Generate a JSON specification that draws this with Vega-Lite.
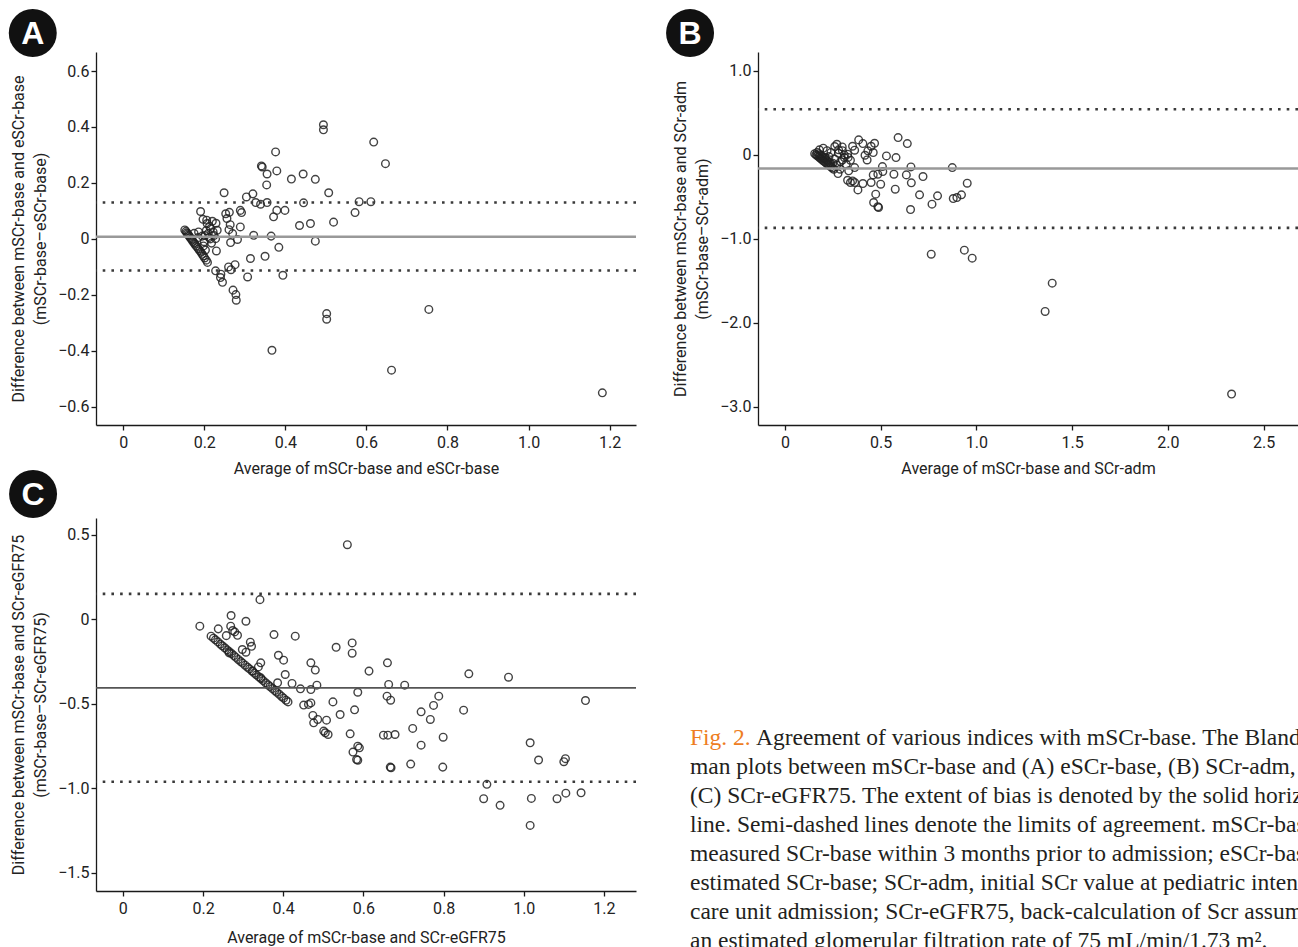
{
"$schema":"https://vega.github.io/schema/vega-lite/v6.json",
"background":"white",
"padding":{"left":8,"top":8,"right":0,"bottom":0},
"config":{
 "view":{"stroke":null},
 "axis":{"grid":false,"domainColor":"#1a1a1a","domainWidth":1.3,"tickColor":"#1a1a1a","tickWidth":1.3,"tickSize":5,"labelFont":"Roboto","labelFontSize":16,"labelColor":"#222","titleFont":"Roboto","titleFontSize":16,"titleFontWeight":"normal","titleColor":"#222","labelPadding":2,"labelFlush":false,"labelOverlap":false},
 "axisY":{"titleLineHeight":22,"titlePadding":9},
 "axisX":{"titlePadding":10,"labelPadding":4}
},
"datasets":{
 "A":[
  {"x":0.494,"y":0.408},{"x":0.494,"y":0.390},{"x":0.618,"y":0.346},{"x":0.647,"y":0.269},{"x":0.376,"y":0.311},{"x":0.341,"y":0.261},{"x":0.343,"y":0.257},{"x":0.379,"y":0.243},{"x":0.355,"y":0.232},{"x":0.415,"y":0.214},{"x":0.444,"y":0.232},{"x":0.474,"y":0.213},{"x":0.354,"y":0.193},{"x":0.249,"y":0.165},{"x":0.507,"y":0.165},{"x":0.320,"y":0.161},{"x":0.304,"y":0.150},{"x":0.327,"y":0.130},{"x":0.339,"y":0.124},{"x":0.355,"y":0.130},{"x":0.445,"y":0.129},{"x":0.582,"y":0.133},{"x":0.611,"y":0.133},{"x":0.572,"y":0.094},{"x":0.379,"y":0.102},{"x":0.399,"y":0.102},{"x":0.371,"y":0.079},{"x":0.289,"y":0.102},{"x":0.292,"y":0.094},{"x":0.262,"y":0.095},{"x":0.253,"y":0.090},{"x":0.256,"y":0.073},{"x":0.191,"y":0.098},{"x":0.197,"y":0.070},{"x":0.206,"y":0.067},{"x":0.220,"y":0.063},{"x":0.229,"y":0.056},{"x":0.519,"y":0.060},{"x":0.462,"y":0.055},{"x":0.435,"y":0.048},{"x":0.289,"y":0.043},{"x":0.264,"y":0.051},{"x":0.261,"y":0.033},{"x":0.270,"y":0.019},{"x":0.232,"y":0.031},{"x":0.216,"y":0.037},{"x":0.186,"y":0.025},{"x":0.202,"y":0.012},{"x":0.212,"y":0.005},{"x":0.224,"y":0.012},{"x":0.228,"y":0.001},{"x":0.322,"y":0.013},{"x":0.365,"y":0.010},{"x":0.282,"y":-0.002},{"x":0.265,"y":-0.013},{"x":0.474,"y":-0.008},{"x":0.384,"y":-0.030},{"x":0.230,"y":-0.043},{"x":0.350,"y":-0.062},{"x":0.314,"y":-0.070},{"x":0.276,"y":-0.092},{"x":0.260,"y":-0.100},{"x":0.266,"y":-0.110},{"x":0.228,"y":-0.114},{"x":0.241,"y":-0.126},{"x":0.307,"y":-0.136},{"x":0.394,"y":-0.130},{"x":0.240,"y":-0.138},{"x":0.245,"y":-0.155},{"x":0.271,"y":-0.183},{"x":0.278,"y":-0.199},{"x":0.279,"y":-0.219},{"x":0.502,"y":-0.267},{"x":0.502,"y":-0.287},{"x":0.754,"y":-0.252},{"x":0.367,"y":-0.398},{"x":0.662,"y":-0.469},{"x":1.182,"y":-0.550},
  {"x":0.152,"y":0.032},{"x":0.155,"y":0.027},{"x":0.157,"y":0.022},{"x":0.159,"y":0.018},{"x":0.161,"y":0.014},{"x":0.163,"y":0.010},{"x":0.165,"y":0.005},{"x":0.168,"y":0.000},{"x":0.170,"y":-0.004},{"x":0.172,"y":-0.009},{"x":0.175,"y":-0.014},{"x":0.177,"y":-0.019},{"x":0.180,"y":-0.025},{"x":0.183,"y":-0.030},{"x":0.186,"y":-0.036},{"x":0.189,"y":-0.042},{"x":0.192,"y":-0.048},{"x":0.195,"y":-0.055},{"x":0.198,"y":-0.061},{"x":0.201,"y":-0.068},{"x":0.205,"y":-0.076},{"x":0.208,"y":-0.084},
  {"x":0.175,"y":0.020},{"x":0.185,"y":0.005},{"x":0.195,"y":0.010},{"x":0.200,"y":-0.010},{"x":0.205,"y":0.030},{"x":0.210,"y":0.020},{"x":0.215,"y":0.000},{"x":0.203,"y":-0.040},{"x":0.198,"y":-0.025},{"x":0.213,"y":0.045},{"x":0.222,"y":0.025},{"x":0.218,"y":-0.015},{"x":0.207,"y":0.055}
 ],
 "B":[
  {"x":0.591,"y":0.206},{"x":0.639,"y":0.135},{"x":0.385,"y":0.179},{"x":0.407,"y":0.135},{"x":0.468,"y":0.139},{"x":0.450,"y":0.103},{"x":0.433,"y":0.048},{"x":0.461,"y":0.028},{"x":0.418,"y":-0.004},{"x":0.429,"y":-0.060},{"x":0.530,"y":-0.012},{"x":0.580,"y":-0.032},{"x":0.271,"y":0.127},{"x":0.299,"y":0.095},{"x":0.353,"y":0.103},{"x":0.364,"y":0.056},{"x":0.327,"y":0.008},{"x":0.310,"y":-0.032},{"x":0.342,"y":-0.063},{"x":0.364,"y":-0.151},{"x":0.333,"y":-0.190},{"x":0.288,"y":-0.171},{"x":0.277,"y":-0.222},{"x":0.327,"y":-0.302},{"x":0.353,"y":-0.310},{"x":0.342,"y":-0.329},{"x":0.364,"y":-0.329},{"x":0.381,"y":-0.417},{"x":0.407,"y":-0.341},{"x":0.450,"y":-0.329},{"x":0.461,"y":-0.238},{"x":0.485,"y":-0.230},{"x":0.509,"y":-0.139},{"x":0.511,"y":-0.198},{"x":0.500,"y":-0.349},{"x":0.474,"y":-0.468},{"x":0.463,"y":-0.567},{"x":0.489,"y":-0.627},{"x":0.485,"y":-0.617},{"x":0.569,"y":-0.230},{"x":0.576,"y":-0.409},{"x":0.634,"y":-0.238},{"x":0.658,"y":-0.143},{"x":0.660,"y":-0.333},{"x":0.721,"y":-0.258},{"x":0.703,"y":-0.476},{"x":0.656,"y":-0.651},{"x":0.768,"y":-0.587},{"x":0.797,"y":-0.488},{"x":0.874,"y":-0.151},{"x":0.879,"y":-0.520},{"x":0.898,"y":-0.508},{"x":0.922,"y":-0.476},{"x":0.952,"y":-0.337},{"x":0.764,"y":-1.183},{"x":0.937,"y":-1.135},{"x":0.978,"y":-1.230},{"x":1.396,"y":-1.528},{"x":1.359,"y":-1.865},{"x":2.333,"y":-2.849},
  {"x":0.155,"y":0.015},{"x":0.162,"y":0.002},{"x":0.169,"y":-0.011},{"x":0.176,"y":-0.024},{"x":0.183,"y":-0.037},{"x":0.190,"y":-0.050},{"x":0.197,"y":-0.063},{"x":0.204,"y":-0.076},{"x":0.211,"y":-0.089},{"x":0.218,"y":-0.102},{"x":0.225,"y":-0.115},{"x":0.232,"y":-0.128},{"x":0.240,"y":-0.143},{"x":0.247,"y":-0.156},{"x":0.255,"y":-0.171},
  {"x":0.168,"y":0.030},{"x":0.176,"y":0.014},{"x":0.184,"y":-0.001},{"x":0.192,"y":-0.016},{"x":0.200,"y":-0.031},{"x":0.208,"y":-0.046},{"x":0.216,"y":-0.061},{"x":0.224,"y":-0.076},{"x":0.232,"y":-0.091},{"x":0.240,"y":-0.106},
  {"x":0.180,"y":0.060},{"x":0.200,"y":0.080},{"x":0.220,"y":0.050},{"x":0.210,"y":-0.030},{"x":0.230,"y":-0.020},{"x":0.240,"y":0.030},{"x":0.260,"y":-0.050},{"x":0.250,"y":-0.100},{"x":0.270,"y":-0.120},{"x":0.280,"y":0.020},{"x":0.290,"y":-0.080},{"x":0.300,"y":-0.060},{"x":0.310,"y":0.000},{"x":0.320,"y":-0.110},{"x":0.260,"y":0.100},{"x":0.280,"y":0.060},{"x":0.300,"y":0.050},{"x":0.330,"y":-0.030}
 ],
 "C":[
  {"x":0.560,"y":0.441},{"x":0.342,"y":0.116},{"x":0.270,"y":0.022},{"x":0.307,"y":-0.012},{"x":0.192,"y":-0.041},{"x":0.238,"y":-0.057},{"x":0.269,"y":-0.041},{"x":0.274,"y":-0.067},{"x":0.279,"y":-0.075},{"x":0.286,"y":-0.095},{"x":0.258,"y":-0.097},{"x":0.377,"y":-0.091},{"x":0.430,"y":-0.100},{"x":0.318,"y":-0.136},{"x":0.321,"y":-0.160},{"x":0.298,"y":-0.179},{"x":0.307,"y":-0.195},{"x":0.265,"y":-0.199},{"x":0.532,"y":-0.166},{"x":0.572,"y":-0.140},{"x":0.572,"y":-0.201},{"x":0.388,"y":-0.213},{"x":0.401,"y":-0.242},{"x":0.469,"y":-0.258},{"x":0.480,"y":-0.301},{"x":0.660,"y":-0.258},{"x":0.614,"y":-0.307},{"x":0.344,"y":-0.258},{"x":0.338,"y":-0.282},{"x":0.324,"y":-0.307},{"x":0.405,"y":-0.327},{"x":0.344,"y":-0.347},{"x":0.863,"y":-0.323},{"x":0.962,"y":-0.343},{"x":0.663,"y":-0.386},{"x":0.703,"y":-0.390},{"x":0.484,"y":-0.390},{"x":0.422,"y":-0.380},{"x":0.386,"y":-0.376},{"x":0.443,"y":-0.412},{"x":0.469,"y":-0.416},{"x":0.586,"y":-0.432},{"x":0.659,"y":-0.455},{"x":0.668,"y":-0.479},{"x":0.788,"y":-0.455},{"x":0.524,"y":-0.489},{"x":1.154,"y":-0.481},{"x":0.469,"y":-0.495},{"x":0.451,"y":-0.508},{"x":0.463,"y":-0.504},{"x":0.775,"y":-0.510},{"x":0.578,"y":-0.536},{"x":0.850,"y":-0.538},{"x":0.744,"y":-0.548},{"x":0.542,"y":-0.564},{"x":0.474,"y":-0.569},{"x":0.476,"y":-0.613},{"x":0.486,"y":-0.593},{"x":0.508,"y":-0.597},{"x":0.767,"y":-0.593},{"x":0.501,"y":-0.662},{"x":0.505,"y":-0.672},{"x":0.512,"y":-0.682},{"x":0.567,"y":-0.678},{"x":0.650,"y":-0.686},{"x":0.661,"y":-0.686},{"x":0.679,"y":-0.682},{"x":0.723,"y":-0.646},{"x":0.799,"y":-0.698},{"x":0.744,"y":-0.745},{"x":0.586,"y":-0.751},{"x":0.590,"y":-0.761},{"x":0.574,"y":-0.786},{"x":0.583,"y":-0.830},{"x":0.586,"y":-0.834},{"x":0.667,"y":-0.875},{"x":0.669,"y":-0.879},{"x":0.718,"y":-0.857},{"x":0.798,"y":-0.875},{"x":1.016,"y":-0.731},{"x":1.037,"y":-0.833},{"x":1.104,"y":-0.825},{"x":1.100,"y":-0.843},{"x":0.908,"y":-0.977},{"x":0.900,"y":-1.062},{"x":0.941,"y":-1.101},{"x":1.019,"y":-1.060},{"x":1.016,"y":-1.220},{"x":1.083,"y":-1.062},{"x":1.105,"y":-1.029},{"x":1.143,"y":-1.027},
  {"x":0.220,"y":-0.100},{"x":0.226,"y":-0.112},{"x":0.231,"y":-0.122},{"x":0.237,"y":-0.134},{"x":0.243,"y":-0.147},{"x":0.248,"y":-0.157},{"x":0.254,"y":-0.169},{"x":0.260,"y":-0.181},{"x":0.265,"y":-0.191},{"x":0.271,"y":-0.203},{"x":0.277,"y":-0.215},{"x":0.282,"y":-0.226},{"x":0.288,"y":-0.238},{"x":0.294,"y":-0.250},{"x":0.299,"y":-0.260},{"x":0.305,"y":-0.272},{"x":0.311,"y":-0.284},{"x":0.316,"y":-0.294},{"x":0.322,"y":-0.307},{"x":0.328,"y":-0.319},{"x":0.333,"y":-0.329},{"x":0.339,"y":-0.341},{"x":0.345,"y":-0.353},{"x":0.350,"y":-0.363},{"x":0.356,"y":-0.376},{"x":0.362,"y":-0.388},{"x":0.367,"y":-0.398},{"x":0.373,"y":-0.410},{"x":0.379,"y":-0.422},{"x":0.384,"y":-0.432},{"x":0.390,"y":-0.444},{"x":0.396,"y":-0.457},{"x":0.401,"y":-0.467},{"x":0.407,"y":-0.479},{"x":0.412,"y":-0.489}
 ],
 "caption":[
  {"line":1,"part":"fig","text":"Fig. 2."},
  {"line":1,"part":"first","text":"Agreement of various indices with mSCr-base. The Bland-Alt-"},
  {"line":2,"part":"body","text":"man plots between mSCr-base and (A) eSCr-base, (B) SCr-adm, and"},
  {"line":3,"part":"body","text":"(C) SCr-eGFR75. The extent of bias is denoted by the solid horizontal"},
  {"line":4,"part":"body","text":"line. Semi-dashed lines denote the limits of agreement. mSCr-base,"},
  {"line":5,"part":"body","text":"measured SCr-base within 3 months prior to admission; eSCr-base,"},
  {"line":6,"part":"body","text":"estimated SCr-base; SCr-adm, initial SCr value at pediatric intensive"},
  {"line":7,"part":"body","text":"care unit admission; SCr-eGFR75, back-calculation of Scr assuming"},
  {"line":8,"part":"body","text":"an estimated glomerular filtration rate of 75 mL/min/1.73 m²."}
 ]
},
"spacing":-6,
"vconcat":[
 {"spacing":28,"hconcat":[
  {"width":540,"height":373,"layer":[
   {"data":{"name":"A"},"mark":{"type":"point","shape":"circle","filled":false,"color":"#222","strokeWidth":1.4,"size":58,"opacity":0.85},
    "encoding":{
     "x":{"field":"x","type":"quantitative","scale":{"domain":[-0.067,1.265],"nice":false,"zero":false},"axis":{"title":"Average of mSCr-base and eSCr-base","values":[0,0.2,0.4,0.6,0.8,1.0,1.2],"labelExpr":"datum.value == 0 ? '0' : format(datum.value, '.1f')"}},
     "y":{"field":"y","type":"quantitative","scale":{"domain":[-0.665,0.668],"nice":false,"zero":false},"axis":{"title":["Difference between mSCr-base and eSCr-base","(mSCr-base–eSCr-base)"],"values":[-0.6,-0.4,-0.2,0,0.2,0.4,0.6],"labelExpr":"datum.value == 0 ? '0' : format(datum.value, '.1f')"}}}},
   {"data":{"values":[{}]},"mark":{"type":"rule","color":"#999","strokeWidth":2.5},"encoding":{"y":{"datum":0.008,"type":"quantitative"}}},
   {"data":{"values":[{}]},"mark":{"type":"rule","color":"#3a3a3a","strokeWidth":2.6,"strokeDash":[2.6,6.1],"strokeCap":"butt"},"encoding":{"y":{"datum":0.130,"type":"quantitative"}}},
   {"data":{"values":[{}]},"mark":{"type":"rule","color":"#3a3a3a","strokeWidth":2.6,"strokeDash":[2.6,6.1],"strokeCap":"butt"},"encoding":{"y":{"datum":-0.113,"type":"quantitative"}}},
   {"data":{"values":[{}]},"mark":{"type":"point","shape":"circle","filled":true,"color":"#111","size":2300,"opacity":1},"encoding":{"x":{"datum":-0.223,"type":"quantitative"},"y":{"datum":0.736,"type":"quantitative"}}},
   {"data":{"values":[{}]},"mark":{"type":"text","text":"A","color":"white","fontSize":32,"fontWeight":"bold","font":"Liberation Sans","baseline":"middle","align":"center","dy":1},"encoding":{"x":{"datum":-0.223,"type":"quantitative"},"y":{"datum":0.736,"type":"quantitative"}}}
  ]},
  {"width":540,"height":373,"layer":[
   {"data":{"name":"B"},"mark":{"type":"point","shape":"circle","filled":false,"color":"#222","strokeWidth":1.4,"size":58,"opacity":0.85},
    "encoding":{
     "x":{"field":"x","type":"quantitative","scale":{"domain":[-0.141,2.68],"nice":false,"zero":false},"axis":{"title":"Average of mSCr-base and SCr-adm","values":[0,0.5,1.0,1.5,2.0,2.5],"labelExpr":"datum.value == 0 ? '0' : format(datum.value, '.1f')"}},
     "y":{"field":"y","type":"quantitative","scale":{"domain":[-3.218,1.226],"nice":false,"zero":false},"axis":{"title":["Difference between mSCr-base and SCr-adm","(mSCr-base–SCr-adm)"],"values":[-3,-2,-1,0,1],"labelExpr":"datum.value == 0 ? '0' : format(datum.value, '.1f')"}}}},
   {"data":{"values":[{}]},"mark":{"type":"rule","color":"#999","strokeWidth":2.5},"encoding":{"y":{"datum":-0.163,"type":"quantitative"}}},
   {"data":{"values":[{}]},"mark":{"type":"rule","color":"#3a3a3a","strokeWidth":2.6,"strokeDash":[2.6,6.1],"strokeCap":"butt"},"encoding":{"y":{"datum":0.544,"type":"quantitative"}}},
   {"data":{"values":[{}]},"mark":{"type":"rule","color":"#3a3a3a","strokeWidth":2.6,"strokeDash":[2.6,6.1],"strokeCap":"butt"},"encoding":{"y":{"datum":-0.869,"type":"quantitative"}}},
   {"data":{"values":[{}]},"mark":{"type":"point","shape":"circle","filled":true,"color":"#111","size":2300,"opacity":1},"encoding":{"x":{"datum":-0.496,"type":"quantitative"},"y":{"datum":1.452,"type":"quantitative"}}},
   {"data":{"values":[{}]},"mark":{"type":"text","text":"B","color":"white","fontSize":32,"fontWeight":"bold","font":"Liberation Sans","baseline":"middle","align":"center","dy":1},"encoding":{"x":{"datum":-0.496,"type":"quantitative"},"y":{"datum":1.452,"type":"quantitative"}}}
  ]}
 ]},
 {"spacing":52,"hconcat":[
  {"width":540,"height":373,"layer":[
   {"data":{"name":"C"},"mark":{"type":"point","shape":"circle","filled":false,"color":"#222","strokeWidth":1.4,"size":58,"opacity":0.85},
    "encoding":{
     "x":{"field":"x","type":"quantitative","scale":{"domain":[-0.067,1.28],"nice":false,"zero":false},"axis":{"title":"Average of mSCr-base and SCr-eGFR75","titlePadding":13,"values":[0,0.2,0.4,0.6,0.8,1.0,1.2],"labelExpr":"datum.value == 0 ? '0' : format(datum.value, '.1f')"}},
     "y":{"field":"y","type":"quantitative","scale":{"domain":[-1.608,0.599],"nice":false,"zero":false},"axis":{"title":["Difference between mSCr-base and SCr-eGFR75","(mSCr-base–SCr-eGFR75)"],"values":[-1.5,-1.0,-0.5,0,0.5],"labelExpr":"datum.value == 0 ? '0' : format(datum.value, '.1f')"}}}},
   {"data":{"values":[{}]},"mark":{"type":"rule","color":"#555","strokeWidth":1.6},"encoding":{"y":{"datum":-0.406,"type":"quantitative"}}},
   {"data":{"values":[{}]},"mark":{"type":"rule","color":"#3a3a3a","strokeWidth":2.6,"strokeDash":[2.6,6.1],"strokeCap":"butt"},"encoding":{"y":{"datum":0.150,"type":"quantitative"}}},
   {"data":{"values":[{}]},"mark":{"type":"rule","color":"#3a3a3a","strokeWidth":2.6,"strokeDash":[2.6,6.1],"strokeCap":"butt"},"encoding":{"y":{"datum":-0.962,"type":"quantitative"}}},
   {"data":{"values":[{}]},"mark":{"type":"point","shape":"circle","filled":true,"color":"#111","size":2300,"opacity":1},"encoding":{"x":{"datum":-0.224,"type":"quantitative"},"y":{"datum":0.741,"type":"quantitative"}}},
   {"data":{"values":[{}]},"mark":{"type":"text","text":"C","color":"white","fontSize":32,"fontWeight":"bold","font":"Liberation Sans","baseline":"middle","align":"center","dy":1},"encoding":{"x":{"datum":-0.224,"type":"quantitative"},"y":{"datum":0.741,"type":"quantitative"}}}
  ]},
  {"width":608,"height":429,"data":{"name":"caption"},
   "encoding":{
    "x":{"datum":0,"type":"quantitative","scale":{"domain":[0,1],"nice":false,"zero":false},"axis":null},
    "y":{"field":"line","type":"quantitative","scale":{"domain":[-6.828,7.965],"reverse":true,"nice":false,"zero":false},"axis":null}},
   "layer":[
    {"transform":[{"filter":"datum.part == 'fig'"}],"mark":{"type":"text","align":"left","baseline":"alphabetic","font":"Liberation Serif","fontSize":23.5,"color":"#ee7d22","clip":true},"encoding":{"text":{"field":"text"}}},
    {"transform":[{"filter":"datum.part == 'first'"}],"mark":{"type":"text","align":"left","baseline":"alphabetic","font":"Liberation Serif","fontSize":23.5,"color":"#231f20","dx":66,"clip":true},"encoding":{"text":{"field":"text"}}},
    {"transform":[{"filter":"datum.part == 'body'"}],"mark":{"type":"text","align":"left","baseline":"alphabetic","font":"Liberation Serif","fontSize":23.5,"color":"#231f20","clip":true},"encoding":{"text":{"field":"text"}}}
   ]}
 ]}
]
}
